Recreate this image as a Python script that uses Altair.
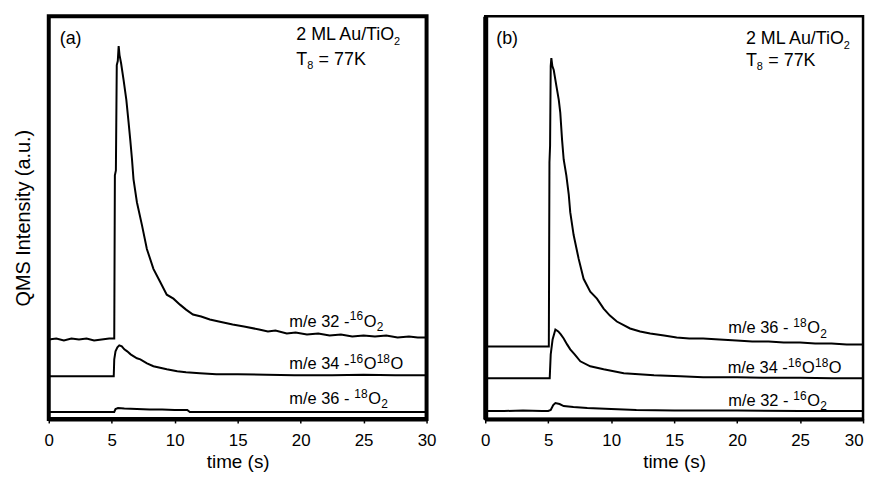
import altair as alt
import pandas as pd

FONT = "Liberation Sans"

# ---------------- panel (a) ----------------
a32_t = [0, 0.6, 1.2, 1.8, 2.4, 3.0, 3.6, 4.2, 4.8, 5.2, 5.25, 5.33, 5.40, 5.48, 5.55, 5.62, 5.74,
         5.94, 6.16, 6.34, 6.47, 6.61, 6.73, 7.0, 7.4, 7.79, 8.31, 8.84, 9.37, 9.9, 10.42, 10.9, 11.45,
         12.1, 12.79, 13.5, 14.6, 15.5, 16.7, 17.4, 18.0, 18.9, 19.6, 20.5, 21.4, 22.3, 23.2, 24.1,
         25.0, 25.9, 26.8, 27.7, 28.6, 29.3, 30.0]
a32_v = [80, 81, 79, 81, 80, 81, 79, 80, 81, 81, 245, 250, 356, 360, 375, 366, 358,
         341, 321, 298, 281, 261, 241, 218, 195, 171, 151, 138, 125, 121, 115, 110, 105,
         103, 100, 98, 95, 93, 90, 88, 89, 86, 87, 85, 86, 84, 85, 83,
         84, 83, 84, 82, 83, 82, 82]

a34_t = [0, 1.5, 3.0, 4.5, 5.16, 5.2, 5.3, 5.45, 5.6, 5.8, 6.0, 6.23, 6.5, 6.75, 7.0, 7.27, 7.8,
         8.31, 9.37, 10.2, 10.9, 12.0, 13.3, 15.0, 17.3, 19.5, 22.5, 25.0, 27.5, 30.0]
a34_v = [43, 43, 43, 43, 43, 60, 68, 72, 74, 73, 70, 68, 65, 63, 61, 60, 56,
         53, 50, 48, 47, 46, 45, 45, 44.5, 44, 44, 44.5, 44, 44]

a36_t = [0, 2.5, 5.2, 5.3, 5.5, 6.0, 7.0, 8.0, 9.0, 10.0, 11.0, 11.2, 15, 20, 25, 30]
a36_v = [7, 7, 7, 10, 11, 10.5, 10, 9.5, 9.5, 9, 9, 7, 7, 7, 7, 7]

# ---------------- panel (b) ----------------
b36_t = [0, 1.0, 2.0, 3.0, 4.0, 5.05, 5.1, 5.15, 5.2, 5.25, 5.33, 5.44, 5.65, 5.84, 5.96, 6.10,
         6.23, 6.44, 6.63, 6.75, 7.02, 7.42, 7.81, 8.34, 8.87, 9.40, 9.9, 10.45, 11.5, 12.3, 13.1,
         14.2, 15.2, 16.2, 17.3, 18.6, 19.95, 21.2, 22.5, 23.7, 25.0, 26.2, 27.5, 28.7, 30.0]
b36_v = [73, 73, 73, 73, 73, 73, 258, 275, 355, 363, 355, 351, 335, 321, 308, 281,
         261, 245, 226, 208, 185, 161, 141, 128, 121, 111, 104, 98, 91, 88, 86,
         84, 82, 81, 81, 80, 79, 78, 78, 77, 77, 76, 76, 75, 75]

b34_t = [0, 2.5, 5.05, 5.12, 5.2, 5.35, 5.57, 5.8, 6.0, 6.23, 6.5, 6.75, 7.1, 7.55, 8.34, 9.4,
         11.0, 13.4, 15.5, 17.3, 20.0, 22.0, 25.0, 27.5, 30.0]
b34_v = [41, 41, 41, 41, 65, 80, 90, 88, 85, 81, 75, 70, 65, 58, 53, 50,
         46, 44, 43, 42, 42, 41.5, 41.5, 41, 41]

b32_t = [0, 1.5, 3.0, 4.5, 5.0, 5.2, 5.4, 5.57, 5.9, 6.23, 7.0, 8.1, 10.0, 12.0, 15.0, 20.0, 25.0, 30.0]
b32_v = [8, 8, 8.5, 8, 8, 9, 14, 16, 15, 13, 12, 11, 10, 9, 8.5, 8.5, 8, 8]

# text pieces: (text, kind) where kind is "n" (normal), "sup", "sub" or "gap" (space only)
lab_32a = [("m/e 32 -", "n"), ("16", "sup"), ("O", "n"), ("2", "sub")]
lab_34 = [("m/e 34 -", "n"), ("16", "sup"), ("O", "n"), ("18", "sup"), ("O", "n")]
lab_36a = [("m/e 36 -", "n"), (" ", "gap"), ("18", "sup"), ("O", "n"), ("2", "sub")]
lab_32b = [("m/e 32 -", "n"), (" ", "gap"), ("16", "sup"), ("O", "n"), ("2", "sub")]
lab_36b = lab_36a
ann_sample = [("2 ML Au/TiO", "n"), ("2", "sub")]
ann_temp = [("T", "n"), ("8", "sub"), (" ", "gap"), ("= 77K", "n")]

a_labels = [lab_32a, lab_34, lab_36a]
a_label_t = [19.1, 19.1, 19.1]
a_label_v = [93, 50, 15]
b_labels = [lab_36b, lab_34, lab_32b]
b_label_t = [19.3, 19.25, 19.3]
b_label_v = [86, 46, 13]

a_ann = [[("(a)", "n")], ann_sample, ann_temp]
a_ann_t = [0.87, 19.65, 19.65]
a_ann_v = [377, 381, 356]
b_ann = [[("(b)", "n")], ann_sample, ann_temp]
b_ann_t = [0.87, 20.7, 20.7]
b_ann_v = [377, 377, 355]

# Arial / Liberation Sans advance widths (1/1000 em) for laying out the pieces
ADV = {"m": 833, "/": 278, "e": 556, " ": 278, "-": 333, "O": 778, "M": 833,
       "L": 556, "A": 667, "u": 556, "T": 611, "i": 222, "=": 584, "K": 667, "(": 333,
       ")": 333, "a": 556, "b": 556}


def adv(s, size, squeeze):
    return sum(ADV.get(c, 556) for c in s) * size / 1000.0 * squeeze


def lines_df(parts):
    rows = []
    for name, ts, vs in parts:
        for t, v in zip(ts, vs):
            rows.append({"series": name, "t": t, "v": v})
    return pd.DataFrame(rows)


x_scale = alt.Scale(domain=[0, 30], nice=False, zero=False)
y_scale = alt.Scale(domain=[0, 405], nice=False, zero=False)


def rich_text(pieces, t, v, size, small, squeeze):
    df = pd.DataFrame({"t": [t], "v": [v]})
    marks = []
    x = 0.0
    for txt, kind in pieces:
        if kind == "gap":
            x += adv(txt, size, 1.0)
            continue
        fs = size if kind == "n" else small
        dy = 0 if kind == "n" else (-0.38 * size if kind == "sup" else 0.25 * size)
        marks.append(
            alt.Chart(df).mark_text(text=txt, align="left", baseline="alphabetic", font=FONT,
                                    fontSize=fs, color="black", dx=round(x, 1), dy=round(dy, 1))
            .encode(x=alt.X("t:Q", scale=x_scale), y=alt.Y("v:Q", scale=y_scale))
        )
        x += adv(txt, fs, squeeze) + (0.6 if kind != "n" else 0.3)
    return marks


def panel(ldf, labels, lab_t, lab_v, anns, ann_t, ann_v, left):
    label_align = "center" if left else {
        "condition": {"test": "datum.value == 30", "value": "right"}, "value": "center"}
    x_axis = alt.Axis(values=[0, 5, 10, 15, 20, 25, 30], title="time (s)", grid=False,
                      tickSize=4, tickWidth=1.5, tickColor="black",
                      domain=True, domainColor="black", domainWidth=4,
                      labelFont=FONT, labelFontSize=17, labelColor="black", labelPadding=10,
                      labelAlign=label_align,
                      titleFont=FONT, titleFontSize=19, titleFontWeight="normal",
                      titleColor="black", titlePadding=4, labelFlush=False)
    if left:
        y_axis = alt.Axis(title="QMS Intensity (a.u.)", labels=False, ticks=False, domain=False,
                          grid=False, titleFont=FONT, titleFontSize=20, titleFontWeight="normal",
                          titleColor="black", titlePadding=15, minExtent=0)
    else:
        y_axis = alt.Axis(title=None, labels=False, ticks=False, domain=True, domainColor="black",
                          domainWidth=5, grid=False, minExtent=0)
    layers = [alt.Chart(ldf).mark_line(color="black", strokeWidth=2).encode(
        x=alt.X("t:Q", scale=x_scale, axis=x_axis),
        y=alt.Y("v:Q", scale=y_scale, axis=y_axis),
        detail="series:N",
    )]
    for pieces, t, v in zip(labels, lab_t, lab_v):
        layers += rich_text(pieces, t, v, 16.5, 12, 1.0)
    for pieces, t, v in zip(anns, ann_t, ann_v):
        layers += rich_text(pieces, t, v, 18, 11, 0.97)
    view = alt.ViewBackground(stroke="black", strokeWidth=4 if left else 2.5, fill="white")
    return alt.layer(*layers).properties(width=380, height=405, view=view)


left = panel(
    lines_df([("32", a32_t, a32_v), ("34", a34_t, a34_v), ("36", a36_t, a36_v)]),
    a_labels, a_label_t, a_label_v, a_ann, a_ann_t, a_ann_v, True,
)
right = panel(
    lines_df([("36", b36_t, b36_v), ("34", b34_t, b34_v), ("32", b32_t, b32_v)]),
    b_labels, b_label_t, b_label_v, b_ann, b_ann_t, b_ann_v, False,
)

chart = alt.hconcat(left, right, spacing=59, bounds="flush").properties(
    padding={"left": 4, "top": 5, "right": 0, "bottom": 0},
    background="white",
).configure_view(stroke="black")

chart.save("out.html", embed_options={"renderer": "svg", "actions": False})
